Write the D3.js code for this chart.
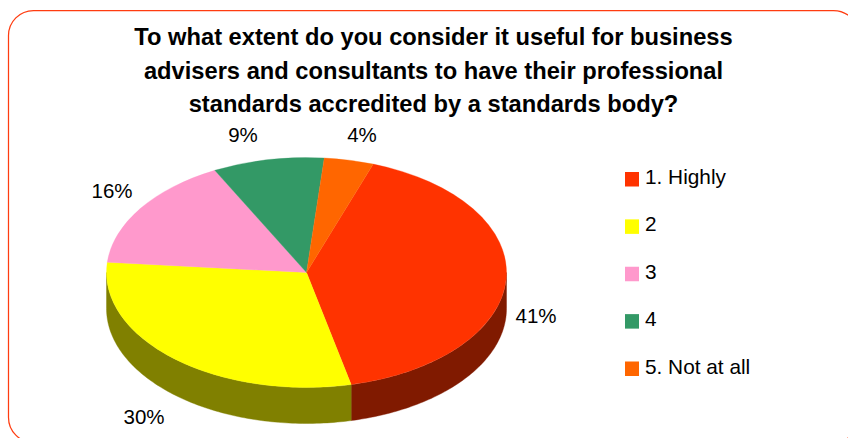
<!DOCTYPE html>
<html>
<head>
<meta charset="utf-8">
<style>
  html, body { margin: 0; padding: 0; background: #fff; }
  svg { display: block; }
  text { font-family: "Liberation Sans", Arial, sans-serif; fill: #000; }
</style>
<script src="https://cdn.jsdelivr.net/npm/d3@7/dist/d3.min.js"></script>
</head>
<body>
<svg id="chart" width="848" height="438"></svg>
<script>
const categories = ["1. Highly", "2", "3", "4", "5. Not at all"];
const shares = [41, 30, 16, 9, 4];
const faceColors = ["#ff3300", "#ffff00", "#ff99cc", "#339966", "#ff6600"];
const wallColors = ["#801a00", "#808000", "#804d66", "#1a4d33", "#803300"];
const titleLines = [
  "To what extent do you consider it useful for business",
  "advisers and consultants to have their professional",
  "standards accredited by a standards body?"
];
const labelAnchors = [[536, 316], [144, 417], [112, 191], [243, 135], [362, 135]];

const svg = d3.select("#chart");
const deg = Math.PI / 180;

// Rounded frame around the whole chart area
svg.append("rect")
  .attr("x", 8.5).attr("y", 10.5)
  .attr("width", 850).attr("height", 432)
  .attr("rx", 25).attr("ry", 25)
  .attr("fill", "#fff")
  .attr("stroke", "#ff3c10")
  .attr("stroke-width", 1.25);

// Title
svg.append("g").selectAll("text").data(titleLines).join("text")
  .attr("x", 433.5)
  .attr("y", (d, i) => 45 + i * 33.5)
  .attr("text-anchor", "middle")
  .attr("font-size", 23.7)
  .attr("font-weight", "bold")
  .text(d => d);

// Tilted pie: a circular layout squashed vertically, with a wall below the rim
const cx = 306.5, cy = 272.5, rx = 200, ry = 115, depth = 36;
const pie = d3.pie().sort(null)
  .startAngle(19.5 * deg)
  .endAngle(379.5 * deg);
const slices = pie(shares);

const rimX = a => cx + rx * Math.sin(a);
const rimY = a => cy - ry * Math.cos(a);

// The wall of each slice, limited to the front half of the rim
function wallPath(s) {
  const from = Math.max(s.startAngle, 90 * deg), to = Math.min(s.endAngle, 270 * deg);
  if (to <= from) return "";
  const steps = Math.ceil((to - from) / deg);
  const t = d3.range(steps + 1).map(i => from + (to - from) * i / steps);
  const upper = t.map(a => [rimX(a), rimY(a)]);
  const lower = t.slice().reverse().map(a => [rimX(a), rimY(a) + depth]);
  return d3.line()(upper.concat(lower)) + "Z";
}

svg.append("g").selectAll("path").data(slices).join("path")
  .attr("d", wallPath)
  .attr("fill", (d, i) => wallColors[i])
  .attr("stroke", (d, i) => wallColors[i])
  .attr("stroke-width", 0.4);

const arc = d3.arc().innerRadius(0).outerRadius(rx);
svg.append("g")
  .attr("transform", `translate(${cx},${cy}) scale(1,${ry / rx})`)
  .selectAll("path").data(slices).join("path")
  .attr("d", arc)
  .attr("fill", (d, i) => faceColors[i])
  .attr("stroke", (d, i) => faceColors[i])
  .attr("stroke-width", 0.4);

// Percentage labels
svg.append("g").selectAll("text").data(shares).join("text")
  .attr("x", (d, i) => labelAnchors[i][0])
  .attr("y", (d, i) => labelAnchors[i][1] + 7)
  .attr("text-anchor", "middle")
  .attr("font-size", 20.5)
  .text(d => d + "%");

// Legend
const legendY = d3.scalePoint().domain(categories).range([172, 361.5]);
const legend = svg.append("g").selectAll("g").data(categories).join("g")
  .attr("transform", d => `translate(625,${legendY(d)})`);
legend.append("rect")
  .attr("width", 14).attr("height", 14.5)
  .attr("fill", (d, i) => faceColors[i]);
legend.append("text")
  .attr("x", 20).attr("y", 12)
  .attr("font-size", 20.8)
  .text(d => d);
</script>
</body>
</html>
